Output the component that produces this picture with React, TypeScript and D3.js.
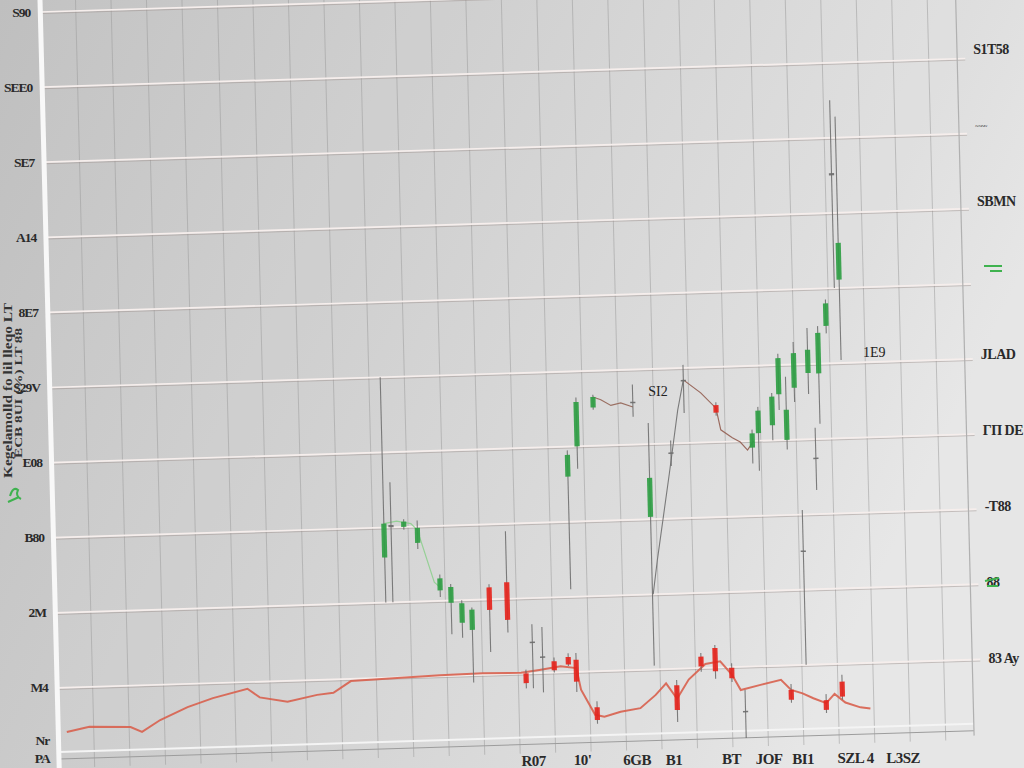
import React from "react";
import * as d3 from "d3";

const W = 1024;
const H = 768;

// y-axis (left) tick values and their printed labels
const leftTickValues = [100, 90, 80, 70, 60, 50, 40, 30, 20, 10, 3, 0];
const leftTickLabels = ["S90", "SEE0", "SE7", "A14", "8E7", "S29V", "E08", "B80", "2M", "M4", "Nr", "PA"];
// y-axis (right) tick values and labels
const rightTickValues = [90, 80, 70, 60, 50, 40, 30, 20, 10];
const rightTickLabels = ["S1T58", "~ ~~~", "SBMN", "", "JLAD", "ΓΠ DE", "-T88", "88", "83 Ay"];
// x-axis (bottom) tick days and labels
const bottomTickDays = [66.9, 73.8, 81.5, 86.7, 94.8, 100.1, 104.9, 112.3, 119];
const bottomTickLabels = ["R07", "10'", "6GB", "B1", "BT", "JOF", "BI1", "SZL 4", "L3SZ"];
const gridDays = d3.range(5, 130, 5);
const gridValues = d3.range(10, 101, 10);

// lower red price line [day, value]
const lowerLine: [number, number][] = [
  [1.2, 4.1], [4.4, 4.7], [10.2, 4.5], [11.8, 3.8], [14.4, 5.3], [18.3, 6.9], [21.9, 8.0],
  [26.8, 9.1], [28.5, 7.9], [32.4, 7.2], [36.6, 8.0], [38.9, 8.2], [41.4, 9.7], [47.4, 9.9],
  [54, 10.1], [60, 10.2], [65.4, 10.1], [68, 10.4], [71, 10.8], [73.2, 10.5], [73.8, 7.6],
  [75.7, 4.2], [77, 3.9], [79.3, 4.5], [82.1, 4.9], [84.3, 6.6], [85.8, 8.1], [87.3, 6.0],
  [89, 8.5], [91.4, 10.5], [93.5, 10.8], [95.1, 9.0], [96.3, 6.9], [99.1, 7.5], [102, 8.1],
  [103.4, 6.7], [105, 6.2], [106.5, 5.5], [108.3, 4.8], [109.5, 6.0], [111, 4.8], [113.1, 4.1],
  [114.5, 3.9],
];

// lower candles [day, open, high, low, close]
const lowerCandles: number[][] = [
  [66.1, 10.0, 10.5, 8.0, 8.7],
  [70.1, 11.5, 12, 10, 10.3],
  [72.1, 12.0, 12.5, 10.8, 11.0],
  [73.2, 11.6, 12.5, 7.3, 8.7],
  [76, 5.2, 6, 3.0, 3.5],
  [87.3, 7.8, 8.5, 2.9, 4.5],
  [90.8, 11.5, 12, 9.5, 10.2],
  [92.8, 12.6, 13, 8.5, 9.5],
  [95.1, 9.9, 10.5, 8.0, 8.5],
  [103.4, 6.7, 7.5, 5, 5.4],
  [108.3, 5.2, 6, 3.5, 3.9],
  [110.6, 7.6, 8.5, 5.2, 5.6],
];

// upper candles [day, open, high, low, close]
const upperCandles: number[][] = [
  [46.6, 26, 50, 20, 30.5],
  [47.6, 30, 36, 20, 30.3],
  [49.4, 30, 31, 29.6, 30.7],
  [51.3, 27.8, 30.8, 27, 29.8],
  [54.3, 21.4, 23.5, 20.5, 23.0],
  [55.8, 19.7, 22.2, 15.5, 21.8],
  [57.3, 17, 20, 15, 19.6],
  [58.7, 16, 19, 9, 18.7],
  [61.2, 21.6, 22, 13, 18.6],
  [63.7, 22.2, 29, 15.5, 17.2],
  [67.1, 14, 16.5, 8, 14.2],
  [68.5, 12, 16.1, 7.4, 12.2],
  [72.7, 36, 39.5, 21, 38.9],
  [74.1, 40, 46.5, 37, 45.9],
  [76.5, 45.1, 46.8, 44.8, 46.5],
  [82.1, 45.5, 48, 43.7, 45.7],
  [84.2, 30.3, 42.8, 10.5, 35.5],
  [87.3, 38.6, 40.4, 37, 38.8],
  [89.3, 48.4, 50.4, 44, 48.2],
  [93.8, 44.9, 45.3, 43.5, 43.9],
  [96.9, 4, 6.9, 0.5, 4.1],
  [98.8, 39.1, 41.5, 37, 41.0],
  [99.7, 41, 44.5, 36, 44],
  [101.7, 42, 46.3, 40, 45.8],
  [102.7, 46.1, 51.5, 44, 50.9],
  [103.7, 40, 48.4, 38.7, 44],
  [104.9, 46.9, 53, 45, 51.5],
  [105.6, 25, 30.6, 10, 25.2],
  [106.9, 48.8, 54.8, 46, 51.9],
  [107.7, 37.5, 41.5, 33.2, 37.3],
  [108.4, 48.7, 55, 42, 54.1],
  [109.6, 55, 58.5, 54, 58],
  [110.9, 75, 85, 60, 75.3],
  [111.6, 61.1, 82.8, 50.4, 66],
];

// thin connecting lines [day, value]
const upperLineA: [number, number][] = [[46.6, 30.5], [48.4, 30.8], [50.4, 30.4], [51.3, 29.5], [53.5, 22.5], [54.3, 21.8]];
const upperLineB: [number, number][] = [[76.5, 46.5], [77.6, 46.1], [79, 45.3], [80.4, 45.6], [82.1, 45.0]];
const upperLineC: [number, number][] = [[84.3, 20], [85, 24.5], [87, 36], [88.4, 44.4], [89.3, 48.4]];
const upperLineD: [number, number][] = [[89.3, 48.4], [91.7, 46.6], [93.8, 44.5], [94.4, 41.6], [96, 40.5], [97.1, 39.9], [98.1, 38.8], [99, 40]];

// annotations [day, value]
const annotationLabels = ["SI2", "1E9"];
const annotationPoints: [number, number][] = [[84.3, 46.4], [114.7, 50.7]];

export default function App() {
  const x = d3.scaleLinear().domain([0, 130]).range([40, 962]);
  const y = d3.scaleLinear().domain([0, 100]).range([763, 12]);
  const A = 1, B = -0.031, C = 0.025, D = 1, E = 0, F = 1.24;
  const proj = (xu: number, yu: number) => [A * xu + C * yu + E, B * xu + D * yu + F];
  const line = d3.line<[number, number]>().x((d) => x(d[0])).y((d) => y(d[1]));
  const frameRight = 955;
  const bottomY = 752;

  const candle = (c: number[], i: number, key: string) => {
    const [t, o, h, l, cl] = c;
    const diff = cl - o;
    const color = Math.abs(diff) < 0.6 ? "#6d6d6d" : diff > 0 ? "#2f9e44" : "#e5251d";
    const cx = x(t);
    const top = y(Math.max(o, cl));
    const ht = Math.max(1.5, Math.abs(y(o) - y(cl)));
    return (
      <g key={key + i}>
        <line x1={cx} x2={cx} y1={y(h)} y2={y(l)} stroke="#6a6a6a" strokeWidth={1.1} opacity={0.85} />
        <rect x={cx - 2.6} y={top} width={5.2} height={ht} fill={color} opacity={0.92} />
      </g>
    );
  };

  return (
    <svg width={W} height={H} style={{ position: "fixed", left: 0, top: 0, display: "block" }}>
      <defs>
        <linearGradient id="bg" x1="0" y1="0" x2="1" y2="0.35">
          <stop offset="0" stopColor="#bfbfbf" />
          <stop offset="0.45" stopColor="#cfcfcf" />
          <stop offset="0.85" stopColor="#dedede" />
          <stop offset="1" stopColor="#e6e6e6" />
        </linearGradient>
      </defs>
      <rect x={0} y={0} width={W} height={H} fill="url(#bg)" />
      <g transform={`matrix(${A},${B},${C},${D},${E},${F})`}>
        <rect x={40} y={-40} width={frameRight - 40} height={bottomY + 40} fill="#ffffff" opacity={0.06} />
        {gridDays.map((d) => (
          x(d) < frameRight ? (
            <line key={"vg" + d} x1={x(d)} x2={x(d)} y1={-40} y2={bottomY + 16} stroke="#9e9e9e" strokeWidth={1} opacity={0.55} />
          ) : null
        ))}
        {gridValues.map((v) => (
          <g key={"hg" + v}>
            <line x1={40} x2={frameRight + 8} y1={y(v) + 1.6} y2={y(v) + 1.6} stroke="#9a8c88" strokeWidth={1} opacity={0.45} />
            <line x1={40} x2={frameRight + 8} y1={y(v)} y2={y(v)} stroke="#f6eeec" strokeWidth={1.7} />
          </g>
        ))}
        <line x1={40} x2={frameRight} y1={bottomY} y2={bottomY} stroke="#f4f4f4" strokeWidth={2} />
        <line x1={40} x2={frameRight} y1={bottomY + 7} y2={bottomY + 7} stroke="#9c9c9c" strokeWidth={1} />
        <line x1={frameRight} x2={frameRight} y1={-40} y2={bottomY + 12} stroke="#b0b0b0" strokeWidth={1.2} />
        <line x1={40} x2={40} y1={-10} y2={bottomY + 20} stroke="#f8f8f8" strokeWidth={5} />

        <path d={line(lowerLine) || ""} fill="none" stroke="#d8604e" strokeWidth={2} opacity={0.9} />
        <path d={line(upperLineA) || ""} fill="none" stroke="#8fcf8f" strokeWidth={1.2} opacity={0.9} />
        <path d={line(upperLineB) || ""} fill="none" stroke="#9a6f62" strokeWidth={1.2} />
        <path d={line(upperLineC) || ""} fill="none" stroke="#7a7a7a" strokeWidth={1.1} />
        <path d={line(upperLineD) || ""} fill="none" stroke="#9a6a5e" strokeWidth={1.2} />

        {lowerCandles.map((c, i) => candle(c, i, "lc"))}
        {upperCandles.map((c, i) => candle(c, i, "uc"))}
      </g>

      {annotationPoints.map((p, i) => {
        const [sx, sy] = proj(x(p[0]), y(p[1]));
        return (
          <text key={"an" + i} x={sx} y={sy} fontFamily="Liberation Serif" fontSize={14} fill="#222">
            {annotationLabels[i]}
          </text>
        );
      })}

      {leftTickValues.map((v, i) => {
        const yy = Math.min(y(v), 758);
        return (
          <text key={"lt" + i} x={30 + 0.026 * yy} y={Math.max(yy, 11)} dominantBaseline="central" textAnchor="end"
            fontFamily="Liberation Serif" fontWeight="bold" fontSize={13.5} letterSpacing={-1} fill="#2a2a2a">
            {leftTickLabels[i]}
          </text>
        );
      })}

      {rightTickValues.map((v, i) => {
        const ys = y(v) + B * frameRight + F - 0.1 * v;
        return (
          <text key={"rt" + i} x={972 + 0.025 * ys} y={ys} dominantBaseline="central"
            fontFamily="Liberation Serif" fontWeight="bold" fontSize={i === 1 ? 6 : 14} letterSpacing={-0.5} fill="#2a2a2a">
            {rightTickLabels[i]}
          </text>
        );
      })}

      {bottomTickDays.map((d, i) => {
        const [sx] = proj(x(d), 765);
        return (
          <text key={"bt" + i} x={sx} y={766 - 0.008 * (sx - 500)} textAnchor="middle"
            fontFamily="Liberation Serif" fontWeight="bold" fontSize={15} letterSpacing={-0.5} fill="#2a2a2a">
            {bottomTickLabels[i]}
          </text>
        );
      })}

      <g fontFamily="Liberation Serif" fontWeight="bold" fill="#333">
        <text transform="translate(11.5,478) rotate(-90)" fontSize={12} textLength={175} lengthAdjust="spacingAndGlyphs">Kegelamolld fo lil lleqo LT</text>
        <text transform="translate(21.5,458) rotate(-90)" fontSize={11} textLength={130} lengthAdjust="spacingAndGlyphs">ECB 8UI (%) LT 88</text>
      </g>
      <path d="M10,496 q3,-10 8,-6 q-3,6 3,9 M8,502 l11,-5" fill="none" stroke="#3fb24f" strokeWidth={2} />
      <path d="M984,266 h18 M990,271 h12" fill="none" stroke="#3fb24f" strokeWidth={2} />
      <path d="M985,581 l14,-3 M987,586 h11" fill="none" stroke="#3fb24f" strokeWidth={2} />
    </svg>
  );
}
